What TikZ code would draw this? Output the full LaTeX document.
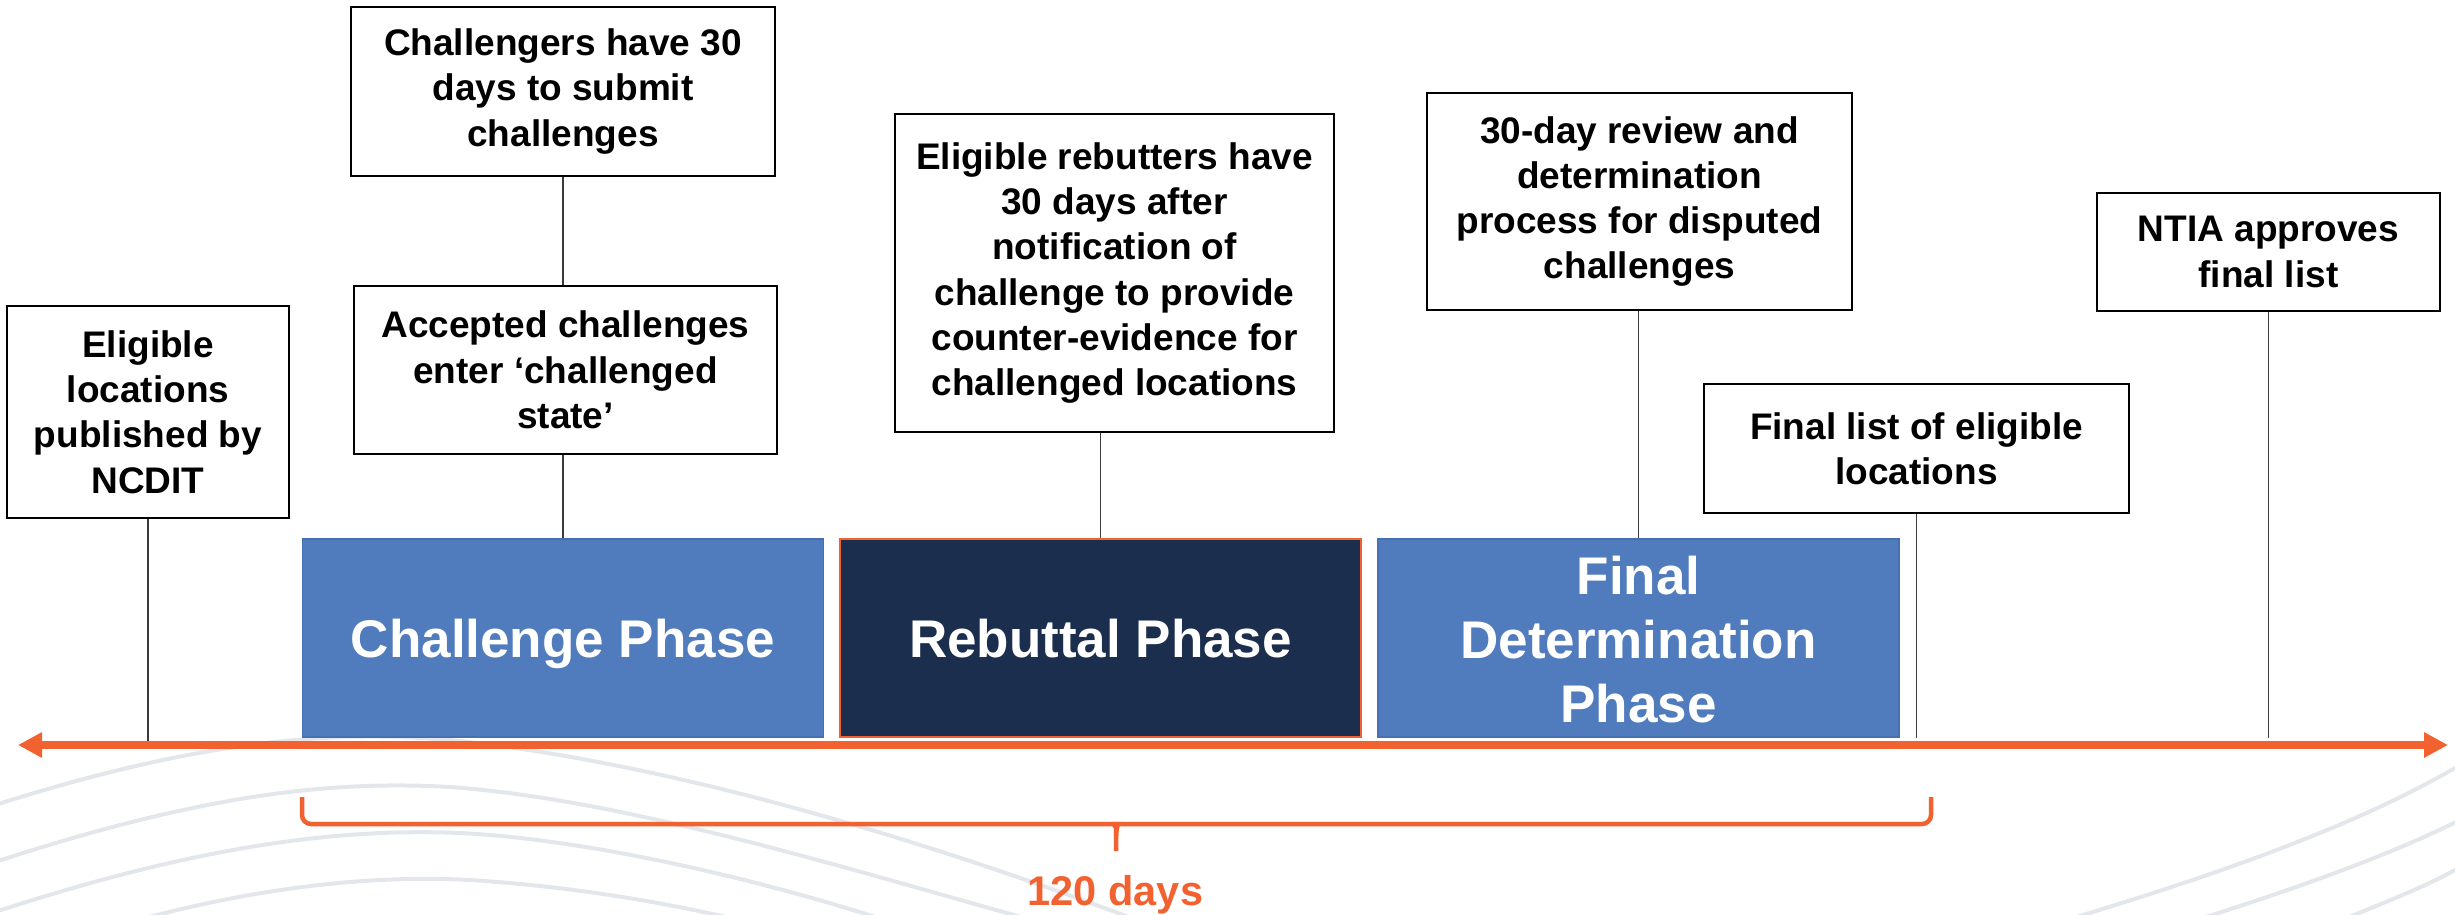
\documentclass[tikz,border=0pt]{standalone}
\usepackage{fontspec}
\setmainfont{Liberation Sans}
\usetikzlibrary{arrows.meta}
\definecolor{phaseblue}{HTML}{507CBE}
\definecolor{phaseblueedge}{HTML}{4670B0}
\definecolor{navy}{HTML}{1B2E4D}
\definecolor{accent}{HTML}{F26130}
\definecolor{wave}{HTML}{E3E7EC}
\definecolor{connector}{HTML}{3A3A3A}
\begin{document}
\begin{tikzpicture}[x=1pt,y=-1pt,
  infobox/.style={draw=black, line width=2pt, fill=white, align=center, inner sep=0pt,
    font=\fontsize{37}{45.3}\selectfont\bfseries},
  phasebox/.style={align=center, inner sep=0pt, text=white, minimum width=521pt,
    minimum height=198pt, font=\fontsize{53}{64}\selectfont\bfseries},
  oneline/.style={text height=38pt, text depth=0pt},
  bluephase/.style={phasebox, fill=phaseblue, draw=phaseblueedge, line width=1.2pt},
  navyphase/.style={phasebox, fill=navy, draw=accent, line width=1.6pt},
  link/.style={draw=connector, line width=1.5pt},
  wavy/.style={draw=wave, line width=4pt},
  bracestyle/.style={draw=accent, line width=4.5pt, rounded corners=9pt},
  timeline/.style={draw=accent, line width=8pt,
    {Triangle[length=24pt 0 0,width=24pt 0 0]}-{Triangle[length=24pt 0 0,width=24pt 0 0]}},
]
\useasboundingbox (0,0) rectangle (2455,914);

% background waves
\draw[wavy] (-5,805) .. controls (200,740) and (330,730) .. (450,740) .. controls (650,760) and (900,830) .. (1150,925);
\draw[wavy] (-5,862) .. controls (200,795) and (330,780) .. (450,787) .. controls (630,800) and (850,870) .. (1050,925);
\draw[wavy] (-5,912) .. controls (200,845) and (340,828) .. (460,833) .. controls (600,840) and (780,885) .. (900,925);
\draw[wavy] (120,925) .. controls (260,885) and (380,875) .. (470,880) .. controls (580,887) and (680,905) .. (760,925);
\draw[wavy] (2050,925) .. controls (2200,880) and (2350,830) .. (2460,765);
\draw[wavy] (2180,925) .. controls (2310,885) and (2400,850) .. (2460,820);
\draw[wavy] (2330,925) .. controls (2390,900) and (2430,885) .. (2460,867);

% info boxes
\node[infobox, minimum width=282pt, minimum height=212pt] (A) at (148,412)
  {Eligible\\locations\\published by\\NCDIT};
\node[infobox, minimum width=424pt, minimum height=169pt] (B) at (563,91.5)
  {Challengers have 30\\days to submit\\challenges};
\node[infobox, minimum width=423pt, minimum height=168pt] (C) at (565.5,370)
  {Accepted challenges\\enter ‘challenged\\state’};
\node[infobox, minimum width=439pt, minimum height=318pt] (G) at (1114.5,273)
  {Eligible rebutters have\\30 days after\\notification of\\challenge to provide\\counter-evidence for\\challenged locations};
\node[infobox, minimum width=425pt, minimum height=217pt] (D) at (1639.5,201.5)
  {30-day review and\\determination\\process for disputed\\challenges};
\node[infobox, minimum width=425pt, minimum height=129pt] (E) at (1916.5,448.5)
  {Final list of eligible\\locations};
\node[infobox, minimum width=343pt, minimum height=118pt] (F) at (2268.5,252)
  {NTIA approves\\final list};

% phase boxes
\node[bluephase, oneline] (P1) at (563,638) {Challenge Phase};
\node[navyphase, oneline] (P2) at (1100.5,638) {Rebuttal Phase};
\node[bluephase] (P3) at (1638.5,638) {\rule{0pt}{42pt}Final\\Determination\\Phase};

% timeline
\coordinate (axL) at (18,745);
\coordinate (axR) at (2448,745);
\coordinate (axTop) at (0,738);

% connectors
\draw[link] (A.south) -- (A.south |- axL);
\draw[link] (B.south -| P1.north) -- (C.north -| P1.north);
\draw[link] (C.south -| P1.north) -- (P1.north);
\draw[link] (P2.north) -- (P2.north |- G.south);
\draw[link] (D.south -| P3.north) -- (P3.north);
\draw[link] (E.south) -- (E.south |- axTop);
\draw[link] (F.south) -- (F.south |- axTop);

\draw[timeline] (axL) -- (axR);

% brace
\coordinate (brL) at (302,797);
\coordinate (brR) at (1931,797);
\coordinate (brM) at (1116,851);
\draw[bracestyle] (brL) |- (1106,824) .. controls (1113,824) and (1116,828) .. (1116,836) -- (brM);
\draw[bracestyle] (brR) |- (1126,824) .. controls (1119,824) and (1116,828) .. (1116,836);

\node[anchor=base, text=accent, font=\fontsize{41.5}{50}\selectfont\bfseries] (days) at (1115.5,905) {120 days};
\end{tikzpicture}
\end{document}
